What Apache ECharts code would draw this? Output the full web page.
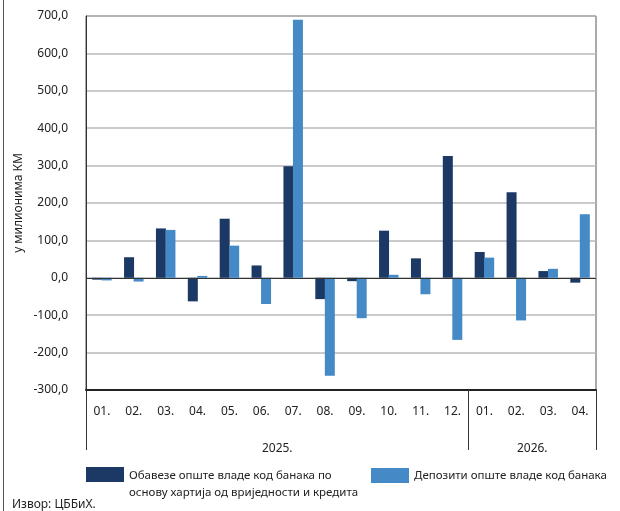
<!DOCTYPE html>
<html>
<head>
<meta charset="utf-8">
<script src="https://cdn.jsdelivr.net/npm/echarts@6/dist/echarts.min.js"></script>
<style>
html,body{margin:0;padding:0;background:#fff;}
#wrap{position:relative;width:620px;height:511px;}
#chart{position:absolute;left:0;top:0;width:620px;height:511px;}
#frame{position:absolute;left:3px;top:0;width:1px;height:511px;background:#555;}
</style>
</head>
<body>
<div id="wrap"><div id="chart"></div><div id="frame"></div></div>
<script>
var months = ['01.','02.','03.','04.','05.','06.','07.','08.','09.','10.','11.','12.','01.','02.','03.','04.'];
var years = ['2025.','2026.'];
var seriesNames = ['Обавезе опште владе код банака по\nоснову хартија од вриједности и кредита','Депозити опште владе код банака'];
var liabilities = [-5, 55, 132, -63, 158, 33, 298, -57, -9, 126, 52, 326, 69, 229, 18, -13];
var deposits = [-7, -10, 128, 5, 86, -70, 690, -262, -108, 8, -44, -166, 54, -114, 24, 170];
var yTicks = {min: -300, max: 700, interval: 100};
var axisTitle = 'у милионима КМ';
var sourceText = 'Извор: ЦББиХ.';

var FONT = 'Noto Sans';
var chart = echarts.init(document.getElementById('chart'), null, {renderer: 'canvas'});
chart.setOption({
  animation: false,
  textStyle: {fontFamily: FONT},
  grid: {left: 86, right: 24, top: 16, bottom: 121, show: true, borderColor: '#555', borderWidth: 1},
  legend: [
    {
      data: [{name: seriesNames[0]}],
      left: 86, top: 467, padding: 0, itemWidth: 38, itemHeight: 34, itemGap: 6,
      icon: 'path://M0,0h38v15h-38z M37.99,33.99h0.01v0.01h-0.01z',
      textStyle: {fontFamily: FONT, fontSize: 11.5, color: '#222', lineHeight: 17},
      selectedMode: false
    },
    {
      data: [{name: seriesNames[1]}],
      left: 371, top: 468, padding: 0, itemWidth: 38, itemHeight: 15, itemGap: 6,
      icon: 'rect',
      textStyle: {fontFamily: FONT, fontSize: 11.5, color: '#222'},
      selectedMode: false
    }
  ],
  xAxis: [
    {
      type: 'category', data: months, position: 'bottom',
      axisLine: {onZero: false, lineStyle: {color: '#222', width: 2}},
      axisTick: {show: false},
      axisLabel: {fontFamily: FONT, fontSize: 12, color: '#222', margin: 16},
      splitLine: {show: false}
    },
    {
      type: 'value', min: 0, max: months.length, position: 'bottom',
      axisLine: {show: false, onZero: false},
      axisTick: {show: true, customValues: [0, 12, 16], length: 60, lineStyle: {color: '#333', width: 1}},
      axisLabel: {
        show: true, customValues: [6, 14], margin: 53, fontFamily: FONT, fontSize: 12, color: '#222',
        formatter: function (v) { return v < 12 ? years[0] : years[1]; }
      },
      splitLine: {show: false}
    }
  ],
  yAxis: {
    type: 'value', min: yTicks.min, max: yTicks.max, interval: yTicks.interval,
    name: axisTitle, nameLocation: 'middle', nameGap: 61, nameRotate: 90, nameMoveOverlap: false,
    nameTextStyle: {fontFamily: FONT, fontSize: 12, color: '#222'},
    axisLine: {show: true, lineStyle: {color: '#333'}},
    axisTick: {show: false},
    axisLabel: {fontFamily: FONT, fontSize: 12, color: '#222', margin: 18,
      formatter: function (v) { return v.toFixed(1).replace('.', ','); }},
    splitLine: {show: true, lineStyle: {color: '#b8b8b8', width: 1.5}}
  },
  series: [
    {
      name: seriesNames[0], type: 'bar', data: liabilities, xAxisIndex: 0,
      barWidth: 10, barGap: '-5%',
      itemStyle: {color: '#1c3865'},
      markLine: {
        silent: true, symbol: 'none', label: {show: false},
        lineStyle: {color: '#333', width: 1, type: 'solid'},
        data: [{yAxis: 0}]
      }
    },
    {
      name: seriesNames[1], type: 'bar', data: deposits, xAxisIndex: 0,
      barWidth: 10, barGap: '-5%',
      itemStyle: {color: '#4589c7'}
    }
  ],
  graphic: [
    {type: 'text', left: 12, top: 499, style: {text: sourceText, font: '12px "Noto Sans"', fill: '#222'}}
  ]
});
</script>
</body>
</html>
